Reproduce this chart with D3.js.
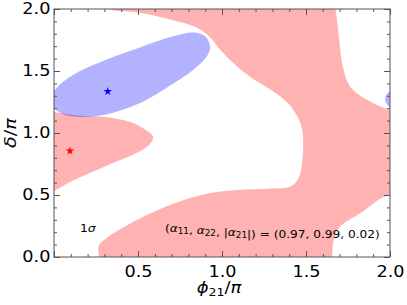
<!DOCTYPE html>
<html>
<head>
<meta charset="utf-8">
<script src="https://cdn.jsdelivr.net/npm/d3@7"></script>
<style>
  body { margin: 0; background: #fff; }
  text { font-family: "DejaVu Sans", sans-serif; }
</style>
</head>
<body>
<div id="viz"></div>
<script>
// contour outlines, [phi21/pi, delta/pi]
var pinkMain = [
    [0.25, 2.08], [1.0, 2.12], [1.66, 2.08], [1.675, 2.0], [1.69, 1.85], [1.70, 1.72],
    [1.72, 1.53], [1.76, 1.38], [1.86, 1.27], [2.0, 1.185], [2.12, 1.15],
    [2.12, 0.45], [2.0, 0.5], [1.82, 0.35], [1.70, 0.24], [1.665, 0.14], [1.655, 0.0],
    [1.65, -0.1], [0.3, -0.1], [0.265, 0.03], [0.27, 0.1], [0.32, 0.16], [0.51, 0.31],
    [0.71, 0.43], [0.91, 0.51], [1.1, 0.54], [1.27, 0.55], [1.41, 0.57], [1.46, 0.65],
    [1.48, 0.81], [1.48, 1.0], [1.46, 1.1], [1.40, 1.23], [1.30, 1.34], [1.17, 1.45],
    [1.07, 1.56], [0.99, 1.67], [0.93, 1.77], [0.85, 1.85], [0.71, 1.91], [0.51, 1.97],
    [0.33, 2.0]
];
var pinkLobe = [
    [-0.1, 1.2], [0.0, 1.17], [0.15, 1.14], [0.31, 1.13], [0.45, 1.09], [0.54, 1.03],
    [0.59, 0.97], [0.57, 0.91], [0.51, 0.85], [0.32, 0.74], [0.12, 0.62], [0.0, 0.53],
    [-0.1, 0.46]
];
var blueBlob = [
    [-0.03, 1.27], [0.02, 1.37], [0.115, 1.47], [0.31, 1.59], [0.51, 1.69], [0.71, 1.78],
    [0.83, 1.81], [0.90, 1.78], [0.93, 1.69], [0.90, 1.60], [0.82, 1.50], [0.71, 1.40],
    [0.51, 1.24], [0.31, 1.15], [0.17, 1.13], [0.04, 1.16]
];
var wrapShift = [0, 2];   // phase is periodic, blob shows again at the right edge
var stars = [
    {phi: 0.32, delta: 1.335, color: "blue"},
    {phi: 0.095, delta: 0.855, color: "red"}
];
var majorTicks = [0, 0.5, 1.0, 1.5, 2.0];
var minorTicks = d3.range(0, 21).map(function(i) { return i / 10; });

var margin = { top: 9, right: 17, bottom: 48, left: 54 },
    width = 407 - margin.left - margin.right,
    height = 305 - margin.top - margin.bottom;

var svg = d3.select("#viz").append("svg")
    .attr("width", 407)
    .attr("height", 305);

var x = d3.scaleLinear().domain([0, 2]).range([0, width]);
var y = d3.scaleLinear().domain([0, 2]).range([height, 0]);

svg.append("clipPath").attr("id", "plotclip")
  .append("rect").attr("width", width).attr("height", height);

var g = svg.append("g")
    .attr("transform", "translate(" + margin.left + "," + margin.top + ")");

var shape = d3.line()
    .x(function(d) { return x(d[0]); })
    .y(function(d) { return y(d[1]); })
    .curve(d3.curveCatmullRomClosed.alpha(0.5));

var regions = g.append("g").attr("clip-path", "url(#plotclip)");

regions.selectAll("path.pink")
    .data([pinkMain, pinkLobe]).enter()
  .append("path")
    .attr("class", "pink")
    .attr("d", shape)
    .attr("fill", "red")
    .attr("fill-opacity", 0.3);

regions.selectAll("path.blue")
    .data(wrapShift).enter()
  .append("path")
    .attr("class", "blue")
    .attr("d", function(s) { return shape(blueBlob.map(function(p) { return [p[0] + s, p[1]]; })); })
    .attr("fill", "blue")
    .attr("fill-opacity", 0.3);

g.selectAll("path.star")
    .data(stars).enter()
  .append("path")
    .attr("class", "star")
    .attr("transform", function(d) { return "translate(" + x(d.phi) + "," + y(d.delta) + ")"; })
    .attr("d", d3.symbol().type(d3.symbolStar).size(22))
    .attr("fill", function(d) { return d.color; });

// axes: ticks inward on all four sides
var fmt = function(d) { return d3.format(".1f")(d); };
var axisColor = "#555";
var stretch = 1.18;   // glyphs in the original are a bit wider than DejaVu

function drawAxis(axis, tr, labels) {
    var a = g.append("g").attr("transform", tr).call(axis);
    a.selectAll(".domain").remove();
    a.selectAll("line").attr("stroke", axisColor);
    a.selectAll("text").attr("font-size", 15).attr("fill", "#000")
        .attr("font-family", "DejaVu Sans")
        .attr("transform", "scale(" + stretch + ",1)");
    if (!labels) a.selectAll("text").remove();
    return a;
}

drawAxis(d3.axisBottom(x).tickValues(minorTicks).tickSize(-3).tickFormat(""), "translate(0," + height + ")", false);
drawAxis(d3.axisTop(x).tickValues(minorTicks).tickSize(-3).tickFormat(""), "translate(0,0)", false);
drawAxis(d3.axisLeft(y).tickValues(minorTicks).tickSize(-3).tickFormat(""), "translate(0,0)", false);
drawAxis(d3.axisRight(y).tickValues(minorTicks).tickSize(-3).tickFormat(""), "translate(" + width + ",0)", false);

drawAxis(d3.axisBottom(x).tickValues(majorTicks).tickSize(-6).tickPadding(9)
    .tickFormat(function(d) { return d === 0 ? "" : fmt(d); }), "translate(0," + height + ")", true);
drawAxis(d3.axisTop(x).tickValues(majorTicks).tickSize(-6).tickFormat(""), "translate(0,0)", false);
drawAxis(d3.axisLeft(y).tickValues(majorTicks).tickSize(-6).tickPadding(3).tickFormat(fmt), "translate(0,0)", true);
drawAxis(d3.axisRight(y).tickValues(majorTicks).tickSize(-6).tickFormat(""), "translate(" + width + ",0)", false);

g.append("rect")
    .attr("width", width)
    .attr("height", height)
    .attr("fill", "none")
    .attr("stroke", axisColor)
    .attr("stroke-width", 1);

// axis titles
var xl = svg.append("text")
    .attr("transform", "translate(" + (margin.left + width / 2 - 3) + ",293) scale(1.2,1)")
    .attr("text-anchor", "middle")
    .attr("font-size", 15);
xl.append("tspan").attr("font-style", "italic").text("\u03d5");
xl.append("tspan").attr("font-size", 10.5).attr("dy", 3).text("21");
xl.append("tspan").attr("dy", -3).text("/");
xl.append("tspan").attr("font-style", "italic").text("\u03c0");

var yl = svg.append("text")
    .attr("transform", "translate(16," + (margin.top + height / 2) + ") rotate(-90) scale(1.28,1)")
    .attr("text-anchor", "middle")
    .attr("font-size", 15);
yl.append("tspan").attr("font-style", "italic").text("\u03b4");
yl.append("tspan").text("/");
yl.append("tspan").attr("font-style", "italic").text("\u03c0");

// annotations
var sig = g.append("text")
    .attr("transform", "translate(" + x(0.155) + ",223) scale(1.12,1)")
    .attr("font-size", 11);
sig.append("tspan").text("1");
sig.append("tspan").attr("font-style", "italic").text("\u03c3");

var ann = g.append("text")
    .attr("font-size", 11);
function sub(t) { ann.append("tspan").attr("font-size", 8).attr("dy", 2).text(t); ann.append("tspan").attr("dy", -2).text(""); }
ann.append("tspan").text("(");
ann.append("tspan").attr("font-style", "italic").text("\u03b1");
sub("11");
ann.append("tspan").text(", ");
ann.append("tspan").attr("font-style", "italic").text("\u03b1");
sub("22");
ann.append("tspan").text(", |");
ann.append("tspan").attr("font-style", "italic").text("\u03b1");
sub("21");
ann.append("tspan").text("|) = (0.97, 0.99, 0.02)");
// squeeze/stretch so it spans the same width as in the original (~215px)
var annW = ann.node().getBBox().width;
ann.attr("transform", "translate(111,223) scale(" + (215 / annW) + ",1)");
</script>
</body>
</html>
